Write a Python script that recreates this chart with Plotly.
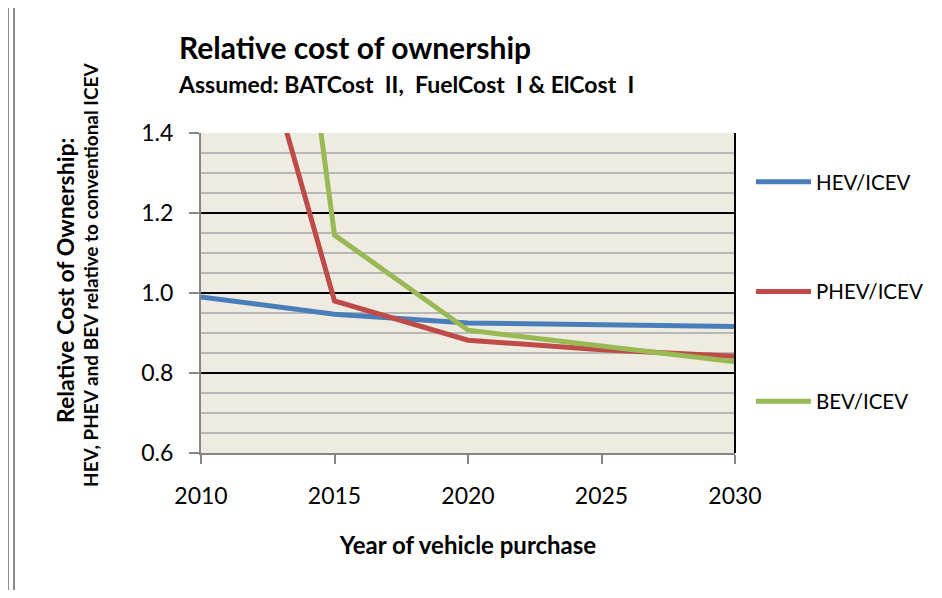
import plotly.graph_objects as go

# data
years = [2010, 2015, 2020, 2025, 2030]
hev_icev = [0.990, 0.947, 0.925, 0.920, 0.916]
phev_icev = [2.16, 0.980, 0.882, 0.858, 0.842]
bev_icev = [3.67, 1.145, 0.907, 0.866, 0.828]

series_names = ["HEV/ICEV", "PHEV/ICEV", "BEV/ICEV"]
series_values = [hev_icev, phev_icev, bev_icev]
series_colors = ["#4A7EBB", "#BE4B48", "#98B954"]

y_ticks = [0.6, 0.8, 1.0, 1.2, 1.4]
y_tick_labels = ["0.6", "0.8", "1.0", "1.2", "1.4"]
x_ticks = [2010, 2015, 2020, 2025, 2030]

FONT = "Lato"
OFF = 8  # the page body keeps an 8px margin on every side
W, H = 942 - 2 * OFF, 598 - 2 * OFF
L, R, T, B = 201, 735, 133, 453  # plot area in reference pixels


def px_x(px):
    return (px - L) / (R - L)


def px_y(py):
    return (B - py) / (B - T)


fig = go.Figure()

for name, vals, color in zip(series_names, series_values, series_colors):
    fig.add_trace(go.Scatter(
        x=years, y=vals, mode="lines", name=name, legendgroup=name,
        line=dict(color=color, width=5),
    ))

fig.update_layout(
    width=W, height=H,
    margin=dict(l=L - OFF, r=942 - OFF - R, t=T - OFF, b=598 - OFF - B, autoexpand=False),
    paper_bgcolor="white",
    plot_bgcolor="#EEECE1",
    font=dict(family=FONT, color="black"),
    title=dict(
        text="<b>Relative cost of ownership</b>",
        font=dict(size=30, family=FONT),
        xref="container", yref="container",
        x=(179 - OFF) / W, xanchor="left", y=1 - (48 - OFF) / H, yanchor="middle",
    ),
    showlegend=True,
    legend=dict(
        x=px_x(751), xanchor="left", y=px_y(162), yanchor="top",
        font=dict(size=20.5, family=FONT),
        tracegroupgap=80, itemwidth=55,
        bgcolor="rgba(0,0,0,0)",
    ),
    xaxis=dict(
        range=[2010, 2030], tickvals=x_ticks, showgrid=False, zeroline=False,
        showline=True, linecolor="#868686", linewidth=2,
        ticks="outside", ticklen=9, tickwidth=2, tickcolor="#868686",
        tickfont=dict(size=23, family=FONT),
        ticklabelstandoff=12,
        title=dict(text="<b>Year of vehicle purchase</b>", font=dict(size=24, family=FONT),
                   standoff=30),
    ),
    yaxis=dict(
        range=[0.6, 1.4], tickvals=y_ticks, ticktext=y_tick_labels,
        showgrid=True, gridcolor="black", gridwidth=2, zeroline=False,
        showline=True, linecolor="#868686", linewidth=2,
        ticks="outside", ticklen=10, tickwidth=2, tickcolor="#868686",
        tickfont=dict(size=23, family=FONT),
        ticklabelstandoff=11,
        minor=dict(dtick=0.05, showgrid=True, gridcolor="#B8B8B8", gridwidth=2),
    ),
)

# subtitle and two-line y-axis title
fig.add_annotation(
    text="<b>Assumed: BATCost\u00a0\u00a0II,\u00a0\u00a0FuelCost\u00a0\u00a0I\u00a0&\u00a0ElCost\u00a0\u00a0I</b>",
    xref="paper", yref="paper", x=px_x(176), y=px_y(84),
    xanchor="left", yanchor="middle", showarrow=False,
    font=dict(size=23, family=FONT),
)
fig.add_annotation(
    text="<b>Relative Cost of Ownership:</b>",
    xref="paper", yref="paper", x=px_x(65), y=px_y(280),
    xanchor="center", yanchor="middle", textangle=-90, showarrow=False,
    font=dict(size=23, family=FONT),
)
fig.add_annotation(
    text="<b>HEV, PHEV and BEV relative to conventional ICEV</b>",
    xref="paper", yref="paper", x=px_x(90), y=px_y(275),
    xanchor="center", yanchor="middle", textangle=-90, showarrow=False,
    font=dict(size=19, family=FONT),
)

# right border of plot area
fig.add_shape(type="line", xref="x domain", yref="y domain", x0=1, x1=1, y0=0, y1=1,
              line=dict(color="black", width=2))

# chart frame (outer borders)
frame = dict(color="#8C8C8C", width=2)
fig.add_shape(type="line", xref="paper", yref="paper",
              x0=px_x(14), x1=px_x(14), y0=px_y(4), y1=px_y(600), line=frame)
fig.add_shape(type="line", xref="paper", yref="paper",
              x0=px_x(14), x1=px_x(945), y0=px_y(4), y1=px_y(4), line=frame)
fig.add_shape(type="line", xref="paper", yref="paper",
              x0=px_x(8), x1=px_x(8), y0=px_y(4), y1=px_y(600), line=frame)

fig.write_html("out.html")
